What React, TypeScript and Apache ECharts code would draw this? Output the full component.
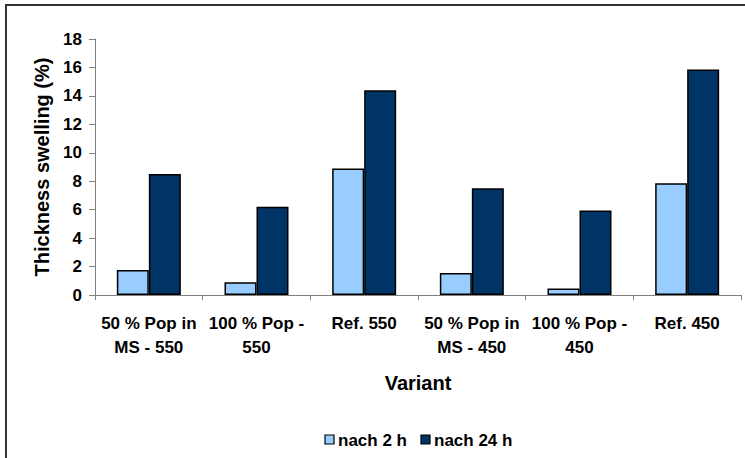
import React, { useEffect, useRef } from "react";
import * as echarts from "echarts";

const categories = [
  "50 % Pop in\nMS - 550",
  "100 % Pop -\n550",
  "Ref. 550",
  "50 % Pop in\nMS - 450",
  "100 % Pop -\n450",
  "Ref. 450",
];
const after2h = [1.75, 0.9, 8.9, 1.55, 0.45, 7.85];
const after24h = [8.5, 6.2, 14.4, 7.5, 5.95, 15.85];
const seriesNames = ["nach 2 h", "nach 24 h"];
const seriesColors = ["#99CCFF", "#003366"];

const FONT = 'Arial, "Liberation Sans", sans-serif';

export default function App() {
  const ref = useRef<HTMLDivElement>(null);
  useEffect(() => {
    if (!ref.current) return;
    const chart = echarts.init(ref.current, undefined, { renderer: "svg" });
    const legendX = [325, 421];
    const legendItems: any[] = [];
    seriesNames.forEach((n, i) => {
      legendItems.push({
        type: "rect",
        shape: { x: legendX[i], y: 435, width: 9, height: 9 },
        style: { fill: seriesColors[i], stroke: "#000", lineWidth: 1.2 },
        silent: true,
      });
      legendItems.push({
        type: "text",
        x: legendX[i] + 13,
        y: 440,
        style: {
          text: n,
          fill: "#000",
          font: `bold 17px ${FONT}`,
          textVerticalAlign: "middle",
          verticalAlign: "middle",
        },
        silent: true,
      });
    });
    chart.setOption({
      animation: false,
      backgroundColor: "#ffffff",
      textStyle: { fontFamily: FONT },
      graphic: [
        {
          type: "rect",
          shape: { x: 6, y: 5, width: 770, height: 480 },
          style: { fill: "none", stroke: "#333333", lineWidth: 2 },
          silent: true,
        },
        ...legendItems,
      ],
      grid: { left: 95, top: 39, right: 4, bottom: 163, containLabel: false },
      xAxis: {
        type: "category",
        data: categories,
        name: "Variant",
        nameLocation: "middle",
        nameGap: 78,
        nameTextStyle: { fontFamily: FONT, fontWeight: "bold", fontSize: 20, color: "#000" },
        axisLine: { lineStyle: { color: "#808080", width: 1 } },
        axisTick: { show: true, length: 5, lineStyle: { color: "#808080" } },
        axisLabel: {
          interval: 0,
          margin: 16,
          fontFamily: FONT,
          fontWeight: "bold",
          fontSize: 17,
          lineHeight: 24,
          color: "#000",
          verticalAlign: "top",
        },
      },
      yAxis: {
        type: "value",
        min: 0,
        max: 18,
        interval: 2,
        name: "Thickness swelling (%)",
        nameLocation: "middle",
        nameGap: 43,
        nameTextStyle: { fontFamily: FONT, fontWeight: "bold", fontSize: 20, color: "#000" },
        splitLine: { show: false },
        axisLine: { show: true, lineStyle: { color: "#808080", width: 1 } },
        axisTick: { show: true, length: 6, lineStyle: { color: "#808080" } },
        axisLabel: {
          margin: 13,
          fontFamily: FONT,
          fontWeight: "bold",
          fontSize: 17,
          color: "#000",
        },
      },
      series: [
        {
          name: seriesNames[0],
          type: "bar",
          data: after2h,
          barWidth: 32,
          barGap: "0%",
          itemStyle: { color: seriesColors[0], borderColor: "#000", borderWidth: 1.5 },
        },
        {
          name: seriesNames[1],
          type: "bar",
          data: after24h,
          barWidth: 32,
          barGap: "0%",
          itemStyle: { color: seriesColors[1], borderColor: "#000", borderWidth: 1.5 },
        },
      ],
    });
    return () => chart.dispose();
  }, []);
  return (
    <div
      ref={ref}
      style={{ position: "fixed", left: 0, top: 0, width: 745, height: 458 }}
    />
  );
}
